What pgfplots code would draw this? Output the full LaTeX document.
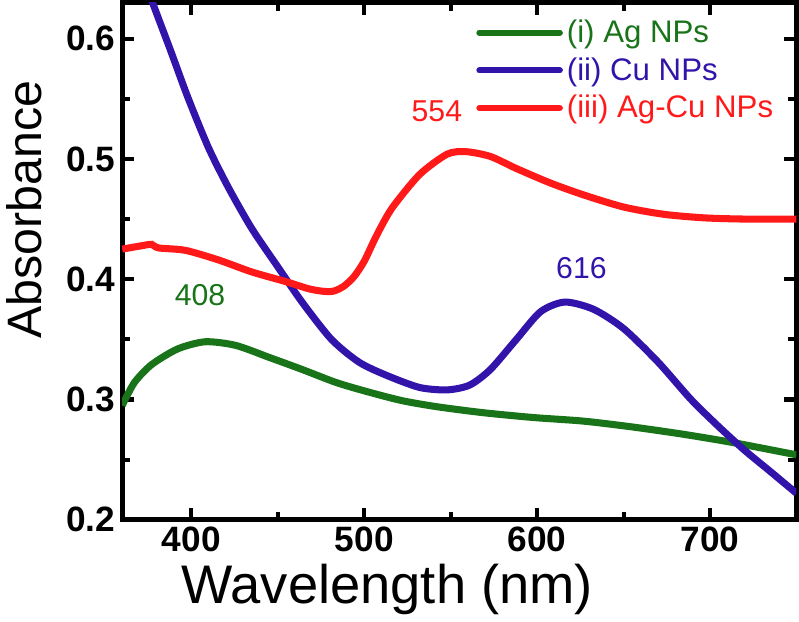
\documentclass[border=0pt]{standalone}
\usepackage{fontspec}
\setmainfont{Liberation Sans}
\usepackage{pgfplots}
\pgfplotsset{compat=1.18}
\definecolor{agg}{RGB}{25,115,25}
\definecolor{cub}{RGB}{50,20,170}
\definecolor{agcu}{RGB}{255,25,25}
\begin{document}
\begin{tikzpicture}
\begin{axis}[
  scale only axis, width=335pt, height=257pt,
  xmin=360, xmax=750, ymin=0.2, ymax=0.63,
  xtick={400,500,600,700}, minor xtick={450,550,650},
  ytick={0.2,0.3,0.4,0.5,0.6}, minor ytick={0.25,0.35,0.45,0.55},
  tick align=inside, tick pos=both,
  major tick length=6pt, minor tick length=4pt,
  tick style={line width=2pt, black},
  axis line style={line width=2.5pt},
  ticklabel style={font=\fontsize{17.5}{17.5}\selectfont\bfseries},
  /pgf/number format/assume math mode=true,
  yticklabel style={/pgf/number format/fixed, /pgf/number format/fixed zerofill, /pgf/number format/precision=1},
  xlabel={Wavelength (nm)}, ylabel={Absorbance},
  xlabel style={font=\fontsize{27}{27}\selectfont, at={(axis description cs:0.393,-0.161)}, anchor=base},
  ylabel style={font=\fontsize{24}{24}\selectfont, at={(axis description cs:-0.145,0.60)}, anchor=center},
  legend style={draw=none, fill=none, at={(0.972,0.975)}, anchor=north east,
    font=\fontsize{15.5}{15.5}\selectfont, row sep=2pt, inner sep=0pt},
  legend cell align=left,
  legend image code/.code={\draw[#1, line width=3pt, line cap=round] (0pt,0pt) -- (40pt,0pt);},
  every axis plot/.append style={line width=3.5pt, smooth, tension=0.45, no marks},
]
\addplot[agg] coordinates {
(360,0.295)(367,0.314)(377,0.329)(392,0.342)(408,0.348)(425.6,0.345)(445,0.335)
(464,0.325)(484,0.314)(503,0.306)(522,0.299)(542,0.294)(569,0.289)
(598,0.285)(627,0.282)(656,0.277)(685,0.271)(714,0.264)(750,0.254)};
\addlegendentry{\textcolor{agg}{(i) Ag NPs}}
\addplot[cub] coordinates {
(360,0.705)(368,0.668)(377,0.632)(388,0.590)(398,0.551)(410,0.509)(421.5,0.476)
(435,0.442)(450.6,0.409)(464,0.381)(481,0.350)(497,0.331)(513,0.320)(532,0.310)
(548,0.308)(561,0.312)(573,0.325)(588,0.350)(602,0.373)(616,0.381)(632.6,0.375)
(650,0.359)(670,0.331)(689,0.300)(704.6,0.278)(719.8,0.258)(735,0.240)(750,0.222)};
\addlegendentry{\textcolor{cub}{(ii) Cu NPs}}
\addplot[agcu] coordinates {
(360,0.425)(372,0.428)(377,0.429)(381,0.426)(396.5,0.424)(415.7,0.416)(435,0.406)
(454.6,0.398)(468,0.392)(476,0.390)(482,0.390)(488,0.394)(494,0.402)(500,0.415)
(507,0.436)(516,0.459)(532,0.487)
(548,0.504)(559,0.506)(573,0.502)(588,0.492)(607.6,0.480)(627,0.470)(650,0.460)
(673,0.454)(696.5,0.451)(720,0.450)(750,0.450)};
\addlegendentry{\textcolor{agcu}{(iii) Ag-Cu NPs}}
\node[agg, font=\fontsize{15}{15}\selectfont] at (axis cs:405,0.387) {408};
\node[agcu, font=\fontsize{15}{15}\selectfont] at (axis cs:542,0.540) {554};
\node[cub, font=\fontsize{15}{15}\selectfont] at (axis cs:625.6,0.409) {616};
\end{axis}
\end{tikzpicture}
\end{document}
